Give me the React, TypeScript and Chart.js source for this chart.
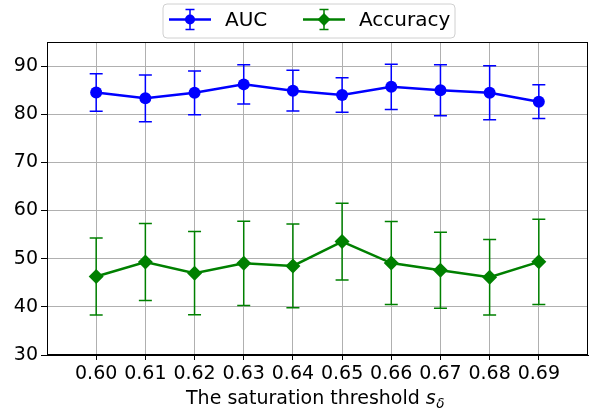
import React, { useEffect, useRef } from "react";
import { Chart, registerables } from "chart.js";
Chart.register(...registerables);

const xLabels = ["0.60", "0.61", "0.62", "0.63", "0.64", "0.65", "0.66", "0.67", "0.68", "0.69"];
const xValues = [0.6, 0.61, 0.62, 0.63, 0.64, 0.65, 0.66, 0.67, 0.68, 0.69];
const yTicks = [30, 40, 50, 60, 70, 80, 90];
const aucMean = [84.5, 83.3, 84.45, 86.2, 84.9, 84.0, 85.7, 85.0, 84.45, 82.6];
const aucErr = [3.9, 4.85, 4.55, 4.1, 4.25, 3.6, 4.7, 5.3, 5.6, 3.5];
const accMean = [46.3, 49.3, 47.0, 49.05, 48.5, 53.55, 49.1, 47.6, 46.15, 49.35];
const accErr = [8.0, 8.0, 8.65, 8.75, 8.7, 7.95, 8.6, 7.9, 7.85, 8.85];
const seriesNames = ["AUC", "Accuracy"];
const xTitle = "The saturation threshold ";

const FONT = "'DejaVu Sans', sans-serif";
const BLUE = "#0000ff";
const GREEN = "#008000";
const AREA_RIGHT = 588;

function drawMarker(ctx: CanvasRenderingContext2D, style: string, x: number, y: number, r: number, color: string) {
  ctx.save();
  ctx.fillStyle = color;
  ctx.beginPath();
  if (style === "circle") {
    ctx.arc(x, y, r, 0, Math.PI * 2);
  } else {
    ctx.moveTo(x, y - r);
    ctx.lineTo(x + r, y);
    ctx.lineTo(x, y + r);
    ctx.lineTo(x - r, y);
    ctx.closePath();
  }
  ctx.fill();
  ctx.restore();
}

const areaPlugin = {
  id: "areaFix",
  afterLayout(chart: any) {
    const ca = chart.chartArea;
    if (ca.right !== AREA_RIGHT) {
      ca.right = AREA_RIGHT;
      ca.width = AREA_RIGHT - ca.left;
      const xs = chart.scales.x;
      xs.right = AREA_RIGHT;
      xs.width = AREA_RIGHT - xs.left;
      xs.configure();
    }
  },
};

const errorBarPlugin = {
  id: "errorBars",
  beforeDatasetsDraw(chart: any) {
    const ctx = chart.ctx;
    const xs = chart.scales.x;
    const ys = chart.scales.y;
    chart.data.datasets.forEach((ds: any) => {
      const errs: number[] = ds.errors;
      ctx.save();
      ctx.strokeStyle = ds.borderColor;
      ctx.lineWidth = 1.5;
      ds.data.forEach((p: any, i: number) => {
        const px = xs.getPixelForValue(p.x);
        const top = ys.getPixelForValue(p.y + errs[i]);
        const bot = ys.getPixelForValue(p.y - errs[i]);
        ctx.beginPath();
        ctx.moveTo(px, top);
        ctx.lineTo(px, bot);
        ctx.moveTo(px - 6.5, top);
        ctx.lineTo(px + 6.5, top);
        ctx.moveTo(px - 6.5, bot);
        ctx.lineTo(px + 6.5, bot);
        ctx.stroke();
      });
      ctx.restore();
    });
  },
};

const framePlugin = {
  id: "frameLegendTitle",
  afterDraw(chart: any) {
    const ctx = chart.ctx as CanvasRenderingContext2D;
    const a = chart.chartArea;
    // frame
    ctx.save();
    ctx.strokeStyle = "#000";
    ctx.lineWidth = 1;
    ctx.strokeRect(Math.round(a.left) + 0.5, Math.round(a.top) + 0.5, Math.round(a.right - a.left) - 1, Math.round(a.bottom - a.top) - 1);
    ctx.restore();

    // legend
    ctx.save();
    const bx = 163, by = 4, bw = 292, bh = 34, rr = 4;
    ctx.beginPath();
    ctx.moveTo(bx + rr, by);
    ctx.lineTo(bx + bw - rr, by);
    ctx.quadraticCurveTo(bx + bw, by, bx + bw, by + rr);
    ctx.lineTo(bx + bw, by + bh - rr);
    ctx.quadraticCurveTo(bx + bw, by + bh, bx + bw - rr, by + bh);
    ctx.lineTo(bx + rr, by + bh);
    ctx.quadraticCurveTo(bx, by + bh, bx, by + bh - rr);
    ctx.lineTo(bx, by + rr);
    ctx.quadraticCurveTo(bx, by, bx + rr, by);
    ctx.closePath();
    ctx.fillStyle = "rgba(255,255,255,0.8)";
    ctx.fill();
    ctx.strokeStyle = "#d0d0d0";
    ctx.lineWidth = 1;
    ctx.stroke();

    const items = [
      { name: seriesNames[0], color: BLUE, style: "circle", hx: 169, tx: 225 },
      { name: seriesNames[1], color: GREEN, style: "diamond", hx: 303, tx: 359 },
    ];
    const cy = 19.5;
    items.forEach((it) => {
      ctx.strokeStyle = it.color;
      ctx.lineWidth = 2.5;
      ctx.beginPath();
      ctx.moveTo(it.hx, cy);
      ctx.lineTo(it.hx + 42, cy);
      ctx.stroke();
      const mx = it.hx + 21;
      ctx.lineWidth = 1.5;
      ctx.beginPath();
      ctx.moveTo(mx, cy - 10);
      ctx.lineTo(mx, cy + 10);
      ctx.moveTo(mx - 4.5, cy - 10);
      ctx.lineTo(mx + 4.5, cy - 10);
      ctx.moveTo(mx - 4.5, cy + 10);
      ctx.lineTo(mx + 4.5, cy + 10);
      ctx.stroke();
      drawMarker(ctx, it.style, mx, cy, it.style === "circle" ? 5 : 6.5, it.color);
      ctx.fillStyle = "#000";
      ctx.font = `20px ${FONT}`;
      ctx.textBaseline = "middle";
      ctx.textAlign = "left";
      ctx.fillText(it.name, it.tx, cy + 1);
    });
    ctx.restore();

    // x axis title with italic s and subscript delta
    ctx.save();
    ctx.fillStyle = "#000";
    ctx.textBaseline = "alphabetic";
    ctx.textAlign = "left";
    const mainFont = `19px ${FONT}`;
    const itFont = `oblique 19px ${FONT}`;
    const subFont = `oblique 13.5px ${FONT}`;
    ctx.font = mainFont;
    const w1 = ctx.measureText(xTitle).width;
    ctx.font = itFont;
    const w2 = ctx.measureText("s").width;
    ctx.font = subFont;
    const w3 = ctx.measureText("δ").width;
    const total = w1 + w2 + w3;
    const cx = 315;
    let x0 = cx - total / 2;
    const base = 404;
    ctx.font = mainFont;
    ctx.fillText(xTitle, x0, base);
    x0 += w1;
    ctx.font = itFont;
    ctx.fillText("s", x0, base);
    x0 += w2 + 0.5;
    ctx.font = subFont;
    ctx.fillText("δ", x0, base + 3.5);
    ctx.restore();
  },
};

export default function App() {
  const ref = useRef<HTMLCanvasElement | null>(null);
  useEffect(() => {
    if (!ref.current) return;
    const chart = new Chart(ref.current, {
      type: "line",
      data: {
        datasets: [
          {
            label: seriesNames[0],
            data: xValues.map((x, i) => ({ x, y: aucMean[i] })),
            errors: aucErr,
            borderColor: BLUE,
            backgroundColor: BLUE,
            borderWidth: 2.5,
            pointStyle: "circle",
            pointRadius: 6,
            pointBorderWidth: 0,
            tension: 0,
          } as any,
          {
            label: seriesNames[1],
            data: xValues.map((x, i) => ({ x, y: accMean[i] })),
            errors: accErr,
            borderColor: GREEN,
            backgroundColor: GREEN,
            borderWidth: 2.5,
            pointStyle: "rectRot",
            pointRadius: 7.5,
            pointBorderWidth: 0,
            tension: 0,
          } as any,
        ],
      },
      options: {
        responsive: false,
        animation: false,
        layout: { padding: { top: 42, right: 0, left: 0, bottom: 0 } },
        plugins: {
          legend: { display: false },
          tooltip: { enabled: false },
        },
        scales: {
          x: {
            type: "linear",
            min: 0.59,
            max: 0.7,
            afterBuildTicks: (s: any) => {
              s.ticks = xValues.map((v) => ({ value: v }));
            },
            afterFit: (s: any) => {
              s.height = 55;
              s.paddingLeft = 0;
              s.paddingRight = 0;
            },
            ticks: {
              callback: (v: any) => {
                const i = xValues.findIndex((x) => Math.abs(x - v) < 1e-9);
                return i >= 0 ? xLabels[i] : "";
              },
              font: { family: FONT, size: 19 },
              color: "#000",
              padding: 3,
              maxRotation: 0,
              autoSkip: false,
            },
            grid: { color: "#b0b0b0", lineWidth: 1, tickLength: 5, tickColor: "#000" },
            border: { display: true, color: "#000", width: 1 },
          },
          y: {
            type: "linear",
            min: 30,
            max: 95,
            afterBuildTicks: (s: any) => {
              s.ticks = yTicks.map((v) => ({ value: v }));
            },
            afterFit: (s: any) => {
              s.width = 47;
              s.paddingTop = 0;
              s.paddingBottom = 0;
            },
            ticks: {
              font: { family: FONT, size: 19 },
              color: "#000",
              padding: 3,
            },
            grid: { color: "#b0b0b0", lineWidth: 1, tickLength: 6, tickColor: "#000" },
            border: { display: true, color: "#000", width: 1 },
          },
        },
      } as any,
      plugins: [areaPlugin, errorBarPlugin, framePlugin],
    });
    return () => chart.destroy();
  }, []);
  return (
    <div style={{ position: "fixed", left: 0, top: 0, width: 590, height: 410, background: "#fff" }}>
      <canvas ref={ref} width={590} height={410} style={{ width: 590, height: 410, display: "block" }} />
    </div>
  );
}
